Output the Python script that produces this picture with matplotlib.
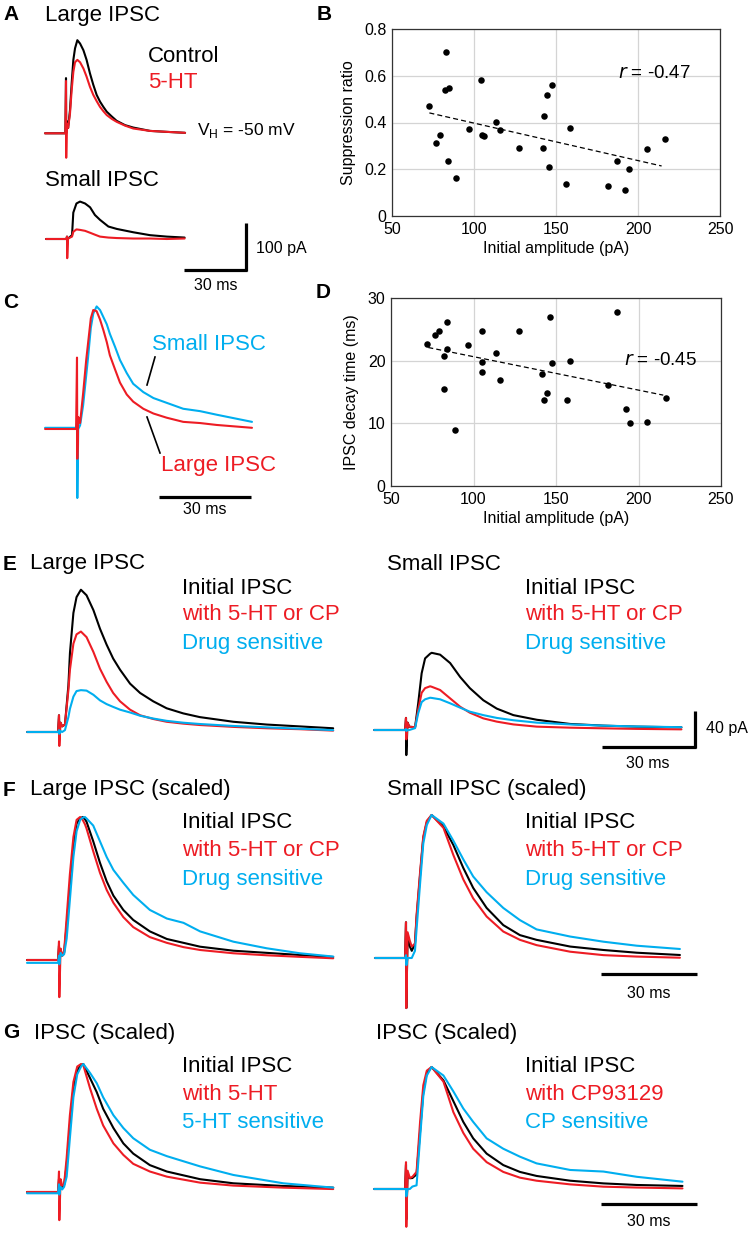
import matplotlib
matplotlib.use("Agg")
import matplotlib.pyplot as plt
from matplotlib.lines import Line2D

plt.rcParams['font.family'] = ['Liberation Sans', 'DejaVu Sans']
plt.rcParams['mathtext.fontset'] = 'custom'
plt.rcParams['mathtext.rm'] = 'Liberation Sans'

RED = '#ED1C24'
BLUE = '#00AEEF'
BLACK = '#000000'

# ---------------- data: scatter panels ----------------
B_amp = [72.8, 82.8, 82.1, 84.8, 79.3, 77.1, 84.4, 89.3, 97.2, 104.7, 106.0, 104.5,
         113.7, 116.1, 127.7, 141.8, 142.6, 144.6, 147.7, 145.6, 158.6, 156.4,
         181.6, 187.0, 192.2, 194.3, 205.2, 216.2]
B_ratio = [0.471, 0.700, 0.541, 0.549, 0.346, 0.314, 0.234, 0.163, 0.373, 0.347, 0.343, 0.582,
           0.404, 0.367, 0.290, 0.290, 0.427, 0.517, 0.559, 0.209, 0.377, 0.136,
           0.129, 0.234, 0.110, 0.199, 0.286, 0.329]
B_fit_x = [72.8, 214.4]
B_fit_y = [0.441, 0.214]

D_amp = [72.0, 76.7, 79.3, 84.1, 84.1, 82.1, 82.1, 89.0, 96.9, 105.4, 105.4, 105.0,
         113.8, 115.9, 127.8, 141.5, 142.5, 144.5, 146.2, 147.6, 158.5, 156.5,
         181.7, 186.8, 192.6, 194.6, 205.4, 216.5]
D_decay = [22.7, 24.1, 24.8, 26.2, 21.8, 20.8, 15.4, 8.9, 22.5, 24.8, 19.8, 18.2,
           21.3, 16.9, 24.7, 17.9, 13.8, 14.9, 26.9, 19.6, 19.9, 13.7,
           16.1, 27.7, 12.3, 10.0, 10.2, 14.1]
D_fit_x = [72.6, 215.0]
D_fit_y = [22.1, 14.5]

# ---------------- data: traces (time in ms from stimulus) ----------------
# A, large IPSC (pA)
A_large_t = [-10, -0.3, 0, 0.1, 0.4, 1.0, 1.9, 2.7, 3.5, 4.3, 5.4, 6.7, 8.3, 9.8, 11.4, 13.0,
             14.6, 16.2, 17.8, 19.4, 21.8, 24.1, 28.1, 32.0, 40.0, 48, 56.7]
A_large_ctrl = [0, 0, 115, 0, 25, 11, 48, 104, 153, 177, 194, 187, 173, 153, 125, 101,
                80, 66, 55, 45, 35, 26, 17, 12, 5, 3, 1]
A_large_5ht = [0, 0, 109, -51, 20, 11, 41, 90, 128, 148, 153, 148, 135, 118, 97, 80,
               67, 55, 46, 38, 30, 24, 16, 10, 5, 3, 1]
# A, small IPSC (pA)
A_small_t = [-10, -0.3, 0, 0.1, 0.5, 2.4, 3.0, 4.5, 6.2, 8.6, 11.0, 13.3, 15.7, 19.7, 23.7, 31.6, 39.5, 47.5, 56]
A_small_ctrl = [0, 0, 5, 0, 1, 8, 55, 74, 78, 74, 66, 50, 40, 26, 21, 14, 8, 5, 3]
A_small_5ht = [0, 0, 5, -40, 1, 5, 15, 20, 19, 17, 13, 9, 5, 3, 2, 1, 1, 0, 1]

# C, normalized
C_t = [-10.4, -0.3, 0, 0.1, 0.4, 1.0, 2.0, 3.0, 3.6, 4.5, 5.3, 6.4, 7.5, 8.6, 9.7, 10.7,
       12.4, 14.0, 16.2, 18.3, 21.6, 24.9, 29.2, 34.6, 40.1, 45.5, 57]
C_large = [0, 0, 0.6, -0.25, 0.1, 0.05, 0.3, 0.58, 0.72, 0.93, 1.0, 0.99, 0.92, 0.83, 0.73, 0.62,
           0.50, 0.39, 0.29, 0.23, 0.17, 0.13, 0.095, 0.06, 0.05, 0.034, 0.01]
C_small = [0.01, 0.01, 0.05, -0.58, 0.0, 0.03, 0.2, 0.45, 0.6, 0.85, 0.97, 1.03, 1.0, 0.94, 0.88, 0.80,
           0.69, 0.58, 0.47, 0.38, 0.31, 0.26, 0.22, 0.17, 0.15, 0.12, 0.06]

# E, large IPSC (pA)
E_large_t = [-10.2, -0.3, 0, 0.1, 0.5, 1.0, 1.9, 3.0, 3.5, 4.6, 5.6, 7.0, 8.8, 11.0, 13.1, 15.2,
             17.3, 19.5, 22.7, 25.9, 30.1, 34.4, 39.7, 45, 55.7, 66.4, 77, 87.6]
E_large_init = [0, 0, 18, 5, 10, 6, 8, 50, 85, 128, 145, 153, 147, 131, 111, 94,
                79, 67, 52, 42, 33, 25.5, 20, 16, 11, 8, 6, 4]
E_large_drug = [0, 0, 18, -15, 10, 6, 8, 45, 67, 95, 105, 108, 102, 86, 68, 54,
                42, 33, 24, 18, 14, 11, 9, 7.5, 5.5, 4, 3, 1.5]
E_large_sens = [0, 0, 2, -2, 1, 0, 2, 16, 25, 38, 44, 45, 44.5, 40, 34, 30,
                27, 24, 21, 17.5, 14.5, 12, 10, 8.6, 6.5, 5, 3.5, 2]
# E, small IPSC (pA)
E_small_t = [-10.2, -0.3, 0, 0.1, 0.5, 1.05, 2.9, 3.9, 5.0, 6.1, 7.7, 8.2, 10.9, 14.1, 17.3, 20.4,
             24.7, 29.0, 34.3, 41.8, 52.4, 63, 73.7, 88]
E_small_init = [0, 0, 13, -27, 8, 3.5, 3, 28.7, 61, 77, 82, 83, 81, 72, 57, 45,
                32, 23, 16, 11, 6.5, 4.7, 3.6, 2.9]
E_small_drug = [0, 0, 13, -10, 8, 3.5, 3, 22, 40, 45, 47, 46.5, 43, 34, 25, 18.6,
                12.5, 9, 6, 3.6, 2.5, 1.8, 1.2, 0.7]
E_small_sens = [0, 0, 1, -1, 0, 0, 2, 18, 30, 33, 34.7, 34.5, 33, 28.7, 24, 19.7,
                16, 13, 10.5, 7.9, 6, 4.7, 3.8, 3]

# F, large IPSC scaled
F_large_t = [-10, -0.3, 0, 0.1, 0.5, 1.0, 1.6, 2.4, 3.4, 4.5, 5.5, 6.6, 7.4, 8.1, 8.6, 10.7,
             12.8, 14.9, 17.0, 20.1, 23.2, 28.4, 33.7, 38.9, 44.1, 54.5, 64.9, 75.3, 85.7]
F_large_init = [0, 0, 0.1, 0.0, 0.07, 0.03, 0.05, 0.245, 0.52, 0.8, 0.955, 0.99, 1.0, 0.985, 0.967, 0.83,
                0.68, 0.55, 0.45, 0.35, 0.28, 0.20, 0.147, 0.12, 0.093, 0.065, 0.05, 0.035, 0.021]
F_large_drug = [0, 0, 0.13, -0.26, 0.08, 0.03, 0.06, 0.30, 0.6, 0.86, 0.98, 1.0, 0.98, 0.95, 0.92, 0.76,
                0.61, 0.49, 0.40, 0.30, 0.23, 0.16, 0.12, 0.09, 0.07, 0.047, 0.033, 0.022, 0.012]
F_large_sens = [-0.02, -0.02, 0.03, -0.03, 0.05, 0.03, 0.04, 0.15, 0.42, 0.72, 0.9, 0.98, 0.995, 1.0, 0.99, 0.94,
                0.83, 0.72, 0.63, 0.54, 0.455, 0.35, 0.29, 0.26, 0.20, 0.128, 0.082, 0.047, 0.024]
# F, small IPSC scaled
F_small_t = [-9.7, -0.3, 0, 0.1, 0.5, 1.2, 1.8, 2.8, 3.3, 4.4, 5.4, 6.5, 8.0, 11.7, 14.8, 17.9,
             21.0, 25.2, 30.4, 35.6, 40.8, 51.3, 61.7, 72.1, 85.6]
F_small_init = [0, 0, 0.25, -0.35, 0.15, 0.08, 0.05, 0.1, 0.28, 0.58, 0.84, 0.95, 1.0, 0.92, 0.79, 0.63,
                0.49, 0.35, 0.23, 0.16, 0.127, 0.08, 0.056, 0.037, 0.021]
F_small_drug = [0, 0, 0.25, -0.35, 0.18, 0.12, 0.08, 0.1, 0.3, 0.6, 0.85, 0.96, 1.0, 0.91, 0.72, 0.55,
                0.417, 0.29, 0.185, 0.127, 0.09, 0.044, 0.02, 0.01, 0.002]
F_small_sens = [0, 0, 0.02, -0.05, 0.0, 0.0, 0.0, 0.05, 0.2, 0.52, 0.8, 0.93, 1.0, 0.94, 0.82, 0.69,
                0.57, 0.46, 0.35, 0.265, 0.20, 0.15, 0.114, 0.086, 0.063]

# G, left (5-HT) scaled
G_left_t = [-10, -0.3, 0, 0.1, 0.5, 1.0, 1.6, 2.4, 3.4, 4.5, 5.7, 6.9, 7.6, 9.7, 11.8, 13.8,
            17.0, 20.1, 23.2, 28.4, 33.7, 44.1, 54.5, 70.1, 85.7]
G_left_init = [0, 0, 0.1, 0.0, 0.06, 0.04, 0.055, 0.21, 0.52, 0.81, 0.95, 0.99, 1.0, 0.89, 0.78, 0.65,
               0.50, 0.38, 0.30, 0.21, 0.16, 0.10, 0.068, 0.047, 0.034]
G_left_drug = [0, 0, 0.16, -0.22, 0.1, 0.05, 0.06, 0.27, 0.6, 0.86, 0.98, 1.0, 0.99, 0.81, 0.65, 0.52,
               0.38, 0.29, 0.22, 0.16, 0.12, 0.073, 0.05, 0.034, 0.023]
G_left_sens = [-0.01, -0.01, 0.06, -0.02, 0.04, 0.02, 0.04, 0.12, 0.42, 0.74, 0.92, 0.98, 1.0, 0.93, 0.85, 0.74,
               0.60, 0.50, 0.42, 0.33, 0.28, 0.20, 0.133, 0.068, 0.034]
# G, right (CP93129) scaled
G_right_t = [-10, -0.3, 0, 0.1, 0.5, 1.2, 2.0, 3.3, 4.4, 5.4, 6.5, 8.0, 11.7, 14.8, 17.9, 21.0,
             25.2, 30.4, 35.6, 40.8, 51.3, 61.7, 72.1, 86.4]
G_right_init = [0, 0, 0.2, -0.25, 0.12, 0.088, 0.09, 0.12, 0.47, 0.80, 0.95, 1.0, 0.89, 0.72, 0.55, 0.415,
                0.29, 0.196, 0.14, 0.107, 0.068, 0.046, 0.033, 0.025]
G_right_drug = [0, 0, 0.22, -0.31, 0.15, 0.09, 0.1, 0.14, 0.55, 0.85, 0.97, 1.0, 0.88, 0.63, 0.46, 0.33,
                0.22, 0.14, 0.093, 0.068, 0.038, 0.019, 0.012, 0.005]
G_right_sens = [0, 0, 0.0, -0.06, 0.0, 0.0, 0.02, 0.03, 0.42, 0.76, 0.93, 1.0, 0.93, 0.80, 0.66, 0.55,
                0.415, 0.33, 0.265, 0.21, 0.156, 0.143, 0.10, 0.06]

# ---------------- figure ----------------
W, H = 750, 1233
fig = plt.figure(figsize=(W / 100, H / 100), dpi=100)


def trace_axes(x0, y0, sx, sy):
    """Invisible full-figure axes: t=0 at pixel x0, baseline at pixel y0."""
    ax = fig.add_axes([0, 0, 1, 1])
    ax.set_xlim(-x0 / sx, (W - x0) / sx)
    ax.set_ylim((y0 - H) / sy, y0 / sy)
    ax.axis('off')
    ax.px = (x0, y0, sx, sy)
    return ax


def tx(ax, px):
    return (px - ax.px[0]) / ax.px[2]


def ty(ax, py):
    return (ax.px[1] - py) / ax.px[3]


def hbar(ax, right_px, y_px, length):
    xe = tx(ax, right_px)
    ax.plot([xe - length, xe], [ty(ax, y_px)] * 2, color='k', lw=2.3, solid_capstyle='butt')


def vbar(ax, x_px, bottom_px, length):
    yb = ty(ax, bottom_px)
    ax.plot([tx(ax, x_px)] * 2, [yb, yb + length], color='k', lw=2.3, solid_capstyle='butt')


def text(x, y, s, size=16, color='k', ha='left', weight='normal', style='normal'):
    fig.text(x / W, 1 - y / H, s, fontsize=size, color=color, ha=ha, va='center',
             fontweight=weight, fontstyle=style)


TLW = 1.5
KW = dict(lw=TLW, solid_joinstyle='round', solid_capstyle='round')

# ---- A ----
axA1 = trace_axes(66, 133.3, 2.1, 0.48)
axA1.plot(A_large_t, A_large_ctrl, color=BLACK, **KW)
axA1.plot(A_large_t, A_large_5ht, color=RED, **KW)
axA2 = trace_axes(67, 239, 2.1, 0.48)
axA2.plot(A_small_t, A_small_ctrl, color=BLACK, **KW)
axA2.plot(A_small_t, A_small_5ht, color=RED, **KW)
hbar(axA2, 247, 270, 30)
vbar(axA2, 246, 271, 100)

text(3, 15, 'A', size=15, weight='bold')
text(45, 15, 'Large IPSC')
text(148, 57, 'Control')
text(148, 82, '5-HT', color=RED)
text(197, 130, r'V$_\mathregular{H}$ = -50 mV', size=12.5)
text(45, 181, 'Small IPSC')
text(256, 249, '100 pA', size=11.5)
text(216, 285, '30 ms', size=11.5, ha='center')

# ---- C ----
axC = trace_axes(77, 429, 3.07, 119)
axC.plot(C_t, C_small, color=BLUE, **KW)
axC.plot(C_t, C_large, color=RED, **KW)
hbar(axC, 251, 497, 30)
fig.add_artist(Line2D([155 / W, 147 / W], [1 - 357 / H, 1 - 385 / H], color='k', lw=1.2))
fig.add_artist(Line2D([147 / W, 160 / W], [1 - 417 / H, 1 - 453 / H], color='k', lw=1.2))
text(3, 303, 'C', size=15, weight='bold')
text(152, 344, 'Small IPSC', color=BLUE)
text(161, 466, 'Large IPSC', color=RED)
text(205, 510, '30 ms', size=11.5, ha='center')

# ---- B, D scatter ----
def scatter_axes(left, top, right, bottom, ylim, yticks, yticklabels, ylabel):
    ax = fig.add_axes([left / W, 1 - bottom / H, (right - left) / W, (bottom - top) / H])
    ax.set_xlim(50, 250)
    ax.set_ylim(*ylim)
    ax.set_xticks([50, 100, 150, 200, 250])
    ax.set_yticks(yticks)
    ax.set_yticklabels(yticklabels)
    ax.grid(True, color='#d4d4d4', lw=0.9)
    ax.set_axisbelow(True)
    for s in ax.spines.values():
        s.set_color('#333333')
        s.set_linewidth(0.9)
    ax.tick_params(length=0, labelsize=11.5, pad=4)
    ax.set_xlabel('Initial amplitude (pA)', fontsize=11.5, labelpad=3)
    ax.set_ylabel(ylabel, fontsize=11.5, labelpad=6)
    return ax

axB = scatter_axes(392, 29, 720, 216, (0, 0.8), [0, 0.2, 0.4, 0.6, 0.8],
                   ['0', '0.2', '0.4', '0.6', '0.8'], 'Suppression ratio')
axB.scatter(B_amp, B_ratio, s=22, color='k', zorder=3, linewidths=0)
axB.plot(B_fit_x, B_fit_y, color='k', lw=0.9, ls=(0, (4, 2.5)))
axB.text(0.69, 0.762, r'$\mathit{r}$ = -0.47', transform=axB.transAxes, fontsize=13.5, va='center')
text(317, 14, 'B', size=15, weight='bold')

axD = scatter_axes(391, 298, 721, 486, (0, 30), [0, 10, 20, 30],
                   ['0', '10', '20', '30'], 'IPSC decay time (ms)')
axD.scatter(D_amp, D_decay, s=22, color='k', zorder=3, linewidths=0)
axD.plot(D_fit_x, D_fit_y, color='k', lw=0.9, ls=(0, (4, 2.5)))
axD.text(0.705, 0.665, r'$\mathit{r}$ = -0.45', transform=axD.transAxes, fontsize=13.5, va='center')
text(316, 293, 'D', size=15, weight='bold')

# ---- E ----
axE1 = trace_axes(59, 732, 3.13, 0.93)
axE1.plot(E_large_t, E_large_init, color=BLACK, **KW)
axE1.plot(E_large_t, E_large_drug, color=RED, **KW)
axE1.plot(E_large_t, E_large_sens, color=BLUE, **KW)
axE2 = trace_axes(406, 730, 3.13, 0.93)
axE2.plot(E_small_t, E_small_init, color=BLACK, **KW)
axE2.plot(E_small_t, E_small_drug, color=RED, **KW)
axE2.plot(E_small_t, E_small_sens, color=BLUE, **KW)
hbar(axE2, 696, 747, 30)
vbar(axE2, 695, 748, 40)
text(3, 564, 'E', size=15, weight='bold')
text(30, 564, 'Large IPSC')
text(387, 564, 'Small IPSC')
text(706, 728, '40 pA', size=11.5)
text(648, 764, '30 ms', size=11.5, ha='center')

# ---- F ----
axF1 = trace_axes(59, 960, 3.2, 143)
axF1.plot(F_large_t, F_large_init, color=BLACK, **KW)
axF1.plot(F_large_t, F_large_drug, color=RED, **KW)
axF1.plot(F_large_t, F_large_sens, color=BLUE, **KW)
axF2 = trace_axes(406, 958, 3.2, 143)
axF2.plot(F_small_t, F_small_init, color=BLACK, **KW)
axF2.plot(F_small_t, F_small_drug, color=RED, **KW)
axF2.plot(F_small_t, F_small_sens, color=BLUE, **KW)
hbar(axF2, 697, 974, 30)
text(3, 790, 'F', size=15, weight='bold')
text(30, 790, 'Large IPSC (scaled)')
text(387, 790, 'Small IPSC (scaled)')
text(649, 993, '30 ms', size=11.5, ha='center')

# ---- G ----
axG1 = trace_axes(59, 1192, 3.2, 128)
axG1.plot(G_left_t, G_left_init, color=BLACK, **KW)
axG1.plot(G_left_t, G_left_drug, color=RED, **KW)
axG1.plot(G_left_t, G_left_sens, color=BLUE, **KW)
axG2 = trace_axes(406, 1189, 3.2, 122)
axG2.plot(G_right_t, G_right_init, color=BLACK, **KW)
axG2.plot(G_right_t, G_right_drug, color=RED, **KW)
axG2.plot(G_right_t, G_right_sens, color=BLUE, **KW)
hbar(axG2, 697, 1204, 30)
text(3, 1033, 'G', size=15, weight='bold')
text(34, 1033, 'IPSC (Scaled)')
text(376, 1033, 'IPSC (Scaled)')
text(649, 1222, '30 ms', size=11.5, ha='center')

# ---- legends (E, F, G) ----
legend_sets = [
    (588, 615, 643, ['Initial IPSC', 'with 5-HT or CP', 'Drug sensitive'], ['Initial IPSC', 'with 5-HT or CP', 'Drug sensitive']),
    (823, 851, 879, ['Initial IPSC', 'with 5-HT or CP', 'Drug sensitive'], ['Initial IPSC', 'with 5-HT or CP', 'Drug sensitive']),
    (1067, 1094, 1122, ['Initial IPSC', 'with 5-HT', '5-HT sensitive'], ['Initial IPSC', 'with CP93129', 'CP sensitive']),
]
for y1, y2, y3, left_lbl, right_lbl in legend_sets:
    for xl, labels in ((182, left_lbl), (525, right_lbl)):
        for yy, lab, col in zip((y1, y2, y3), labels, (BLACK, RED, BLUE)):
            text(xl, yy, lab, color=col)

fig.savefig('out.png', dpi=100)
